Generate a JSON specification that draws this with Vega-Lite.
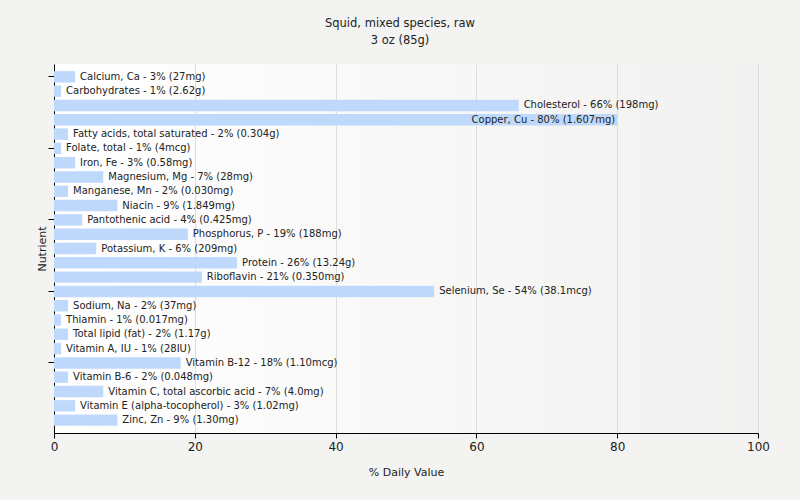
{
  "$schema": "https://vega.github.io/schema/vega-lite/v6.json",
  "width": 704,
  "height": 369,
  "autosize": {"type": "none"},
  "padding": {"left": 54, "top": 64, "right": 42, "bottom": 67},
  "background": "#f3f3f2",
  "title": {
    "text": ["Squid, mixed species, raw", "3 oz (85g)"],
    "font": "DejaVu Sans",
    "fontSize": 11.5,
    "fontWeight": "normal",
    "color": "#222222",
    "dx": -6,
    "offset": 18,
    "lineHeight": 17
  },
  "config": {
    "view": {
      "stroke": null,
      "fill": {"gradient": "linear", "x1": 0, "y1": 0, "x2": 1, "y2": 0, "stops": [{"offset": 0, "color": "#ffffff"}, {"offset": 1, "color": "#f1f1f0"}]}
    },
    "axis": {"labelFont": "DejaVu Sans", "titleFont": "DejaVu Sans", "titleFontWeight": "normal", "titleColor": "#222222", "labelColor": "#222222", "domainColor": "#000000", "tickColor": "#000000"}
  },
  "data": {
    "values": [
      {"nutrient": "Calcium, Ca", "dv": 3, "label": "Calcium, Ca - 3% (27mg)"},
      {"nutrient": "Carbohydrates", "dv": 1, "label": "Carbohydrates - 1% (2.62g)"},
      {"nutrient": "Cholesterol", "dv": 66, "label": "Cholesterol - 66% (198mg)"},
      {"nutrient": "Copper, Cu", "dv": 80, "label": "Copper, Cu - 80% (1.607mg)"},
      {"nutrient": "Fatty acids, total saturated", "dv": 2, "label": "Fatty acids, total saturated - 2% (0.304g)"},
      {"nutrient": "Folate, total", "dv": 1, "label": "Folate, total - 1% (4mcg)"},
      {"nutrient": "Iron, Fe", "dv": 3, "label": "Iron, Fe - 3% (0.58mg)"},
      {"nutrient": "Magnesium, Mg", "dv": 7, "label": "Magnesium, Mg - 7% (28mg)"},
      {"nutrient": "Manganese, Mn", "dv": 2, "label": "Manganese, Mn - 2% (0.030mg)"},
      {"nutrient": "Niacin", "dv": 9, "label": "Niacin - 9% (1.849mg)"},
      {"nutrient": "Pantothenic acid", "dv": 4, "label": "Pantothenic acid - 4% (0.425mg)"},
      {"nutrient": "Phosphorus, P", "dv": 19, "label": "Phosphorus, P - 19% (188mg)"},
      {"nutrient": "Potassium, K", "dv": 6, "label": "Potassium, K - 6% (209mg)"},
      {"nutrient": "Protein", "dv": 26, "label": "Protein - 26% (13.24g)"},
      {"nutrient": "Riboflavin", "dv": 21, "label": "Riboflavin - 21% (0.350mg)"},
      {"nutrient": "Selenium, Se", "dv": 54, "label": "Selenium, Se - 54% (38.1mcg)"},
      {"nutrient": "Sodium, Na", "dv": 2, "label": "Sodium, Na - 2% (37mg)"},
      {"nutrient": "Thiamin", "dv": 1, "label": "Thiamin - 1% (0.017mg)"},
      {"nutrient": "Total lipid (fat)", "dv": 2, "label": "Total lipid (fat) - 2% (1.17g)"},
      {"nutrient": "Vitamin A, IU", "dv": 1, "label": "Vitamin A, IU - 1% (28IU)"},
      {"nutrient": "Vitamin B-12", "dv": 18, "label": "Vitamin B-12 - 18% (1.10mcg)"},
      {"nutrient": "Vitamin B-6", "dv": 2, "label": "Vitamin B-6 - 2% (0.048mg)"},
      {"nutrient": "Vitamin C, total ascorbic acid", "dv": 7, "label": "Vitamin C, total ascorbic acid - 7% (4.0mg)"},
      {"nutrient": "Vitamin E (alpha-tocopherol)", "dv": 3, "label": "Vitamin E (alpha-tocopherol) - 3% (1.02mg)"},
      {"nutrient": "Zinc, Zn", "dv": 9, "label": "Zinc, Zn - 9% (1.30mg)"}
    ]
  },
  "encoding": {
    "y": {
      "field": "nutrient", "type": "nominal", "sort": null,
      "scale": {"paddingInner": 0.2, "paddingOuter": 0.5},
      "axis": {"title": "Nutrient", "titleFontSize": 11, "labels": false, "ticks": true, "tickSize": 6, "titlePadding": 0,
               "values": ["Calcium, Ca", "Folate, total", "Pantothenic acid", "Selenium, Se", "Vitamin B-12"]}
    },
    "x": {
      "field": "dv", "type": "quantitative",
      "scale": {"domain": [0, 100], "nice": false},
      "axis": {"title": "% Daily Value", "titleFontSize": 11, "labelFontSize": 12, "labelFlush": false, "values": [0, 20, 40, 60, 80, 100], "tickSize": 5, "gridColor": "#dddddd", "labelPadding": 3, "titlePadding": 14}
    }
  },
  "layer": [
    {"mark": {"type": "bar", "color": "#bed9fb"}},
    {
      "transform": [{"filter": "datum.dv <= 70"}],
      "mark": {"type": "text", "align": "left", "dx": 5, "font": "DejaVu Sans", "fontSize": 10, "color": "#222222", "baseline": "middle"},
      "encoding": {"text": {"field": "label"}}
    },
    {
      "transform": [{"filter": "datum.dv > 70"}],
      "mark": {"type": "text", "align": "right", "dx": -2, "font": "DejaVu Sans", "fontSize": 10, "color": "#222222", "baseline": "middle"},
      "encoding": {"text": {"field": "label"}}
    }
  ]
}
